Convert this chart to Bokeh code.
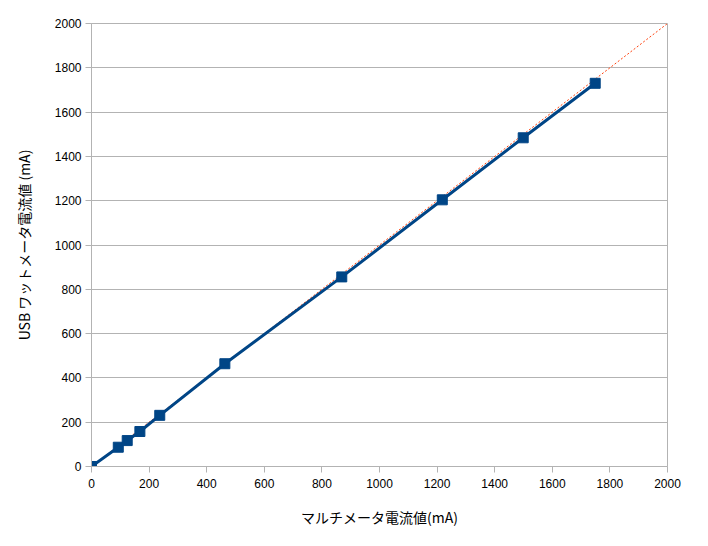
from bokeh.plotting import figure
from bokeh.models import Range1d, FixedTicker, ColumnDataSource
from bokeh.embed import file_html
from bokeh.resources import INLINE

multimeter_ma = [0, 93, 124, 168, 237, 463, 869, 1218, 1499, 1749]
usb_meter_ma = [0, 87, 117, 158, 231, 464, 856, 1204, 1484, 1730]
ref_x = [0, 2000]
ref_y = [0, 2000]
ticks = list(range(0, 2001, 200))

x_label = "マルチメータ電流値(mA)"
y_label = "USB ワットメータ電流値 (mA)"

p = figure(width=700, height=538, output_backend="svg", toolbar_location=None,
           x_range=Range1d(0, 2000), y_range=Range1d(0, 2000),
           min_border_left=91, min_border_top=23, min_border_right=33, min_border_bottom=72)
p.border_fill_color = "white"
p.background_fill_color = "white"
p.outline_line_color = "#b3b3b3"

p.line(ref_x, ref_y, line_color="#ff420e", line_width=1, line_dash="2 2")
src = ColumnDataSource(dict(x=multimeter_ma, y=usb_meter_ma))
p.line("x", "y", source=src, line_color="#004586", line_width=3)
p.scatter("x", "y", source=src, marker="square", size=10, fill_color="#004586", line_color="#004586")

for ax in (p.xaxis[0], p.yaxis[0]):
    ax.ticker = FixedTicker(ticks=ticks)
    ax.minor_tick_line_color = None
    ax.axis_line_color = "#b3b3b3"
    ax.major_tick_line_color = "#b3b3b3"
    ax.major_tick_in = 0
    ax.major_tick_out = 6
    ax.major_label_text_font = "Liberation Sans"
    ax.major_label_text_font_size = "12px"
    ax.major_label_text_color = "black"
    ax.axis_label_text_font = "Noto Sans CJK JP"
    ax.axis_label_text_font_size = "14px"
    ax.axis_label_text_font_style = "normal"
    ax.axis_label_text_color = "black"

p.xaxis.axis_label = x_label
p.yaxis.axis_label = y_label
p.xaxis.major_label_standoff = 6
p.yaxis.major_label_standoff = 4
p.xaxis.axis_label_standoff = 16
p.yaxis.axis_label_standoff = 18

p.xgrid.grid_line_color = None
p.ygrid.grid_line_color = "#b3b3b3"
p.ygrid.ticker = FixedTicker(ticks=ticks)

open("out.html", "w").write(file_html(p, INLINE))
